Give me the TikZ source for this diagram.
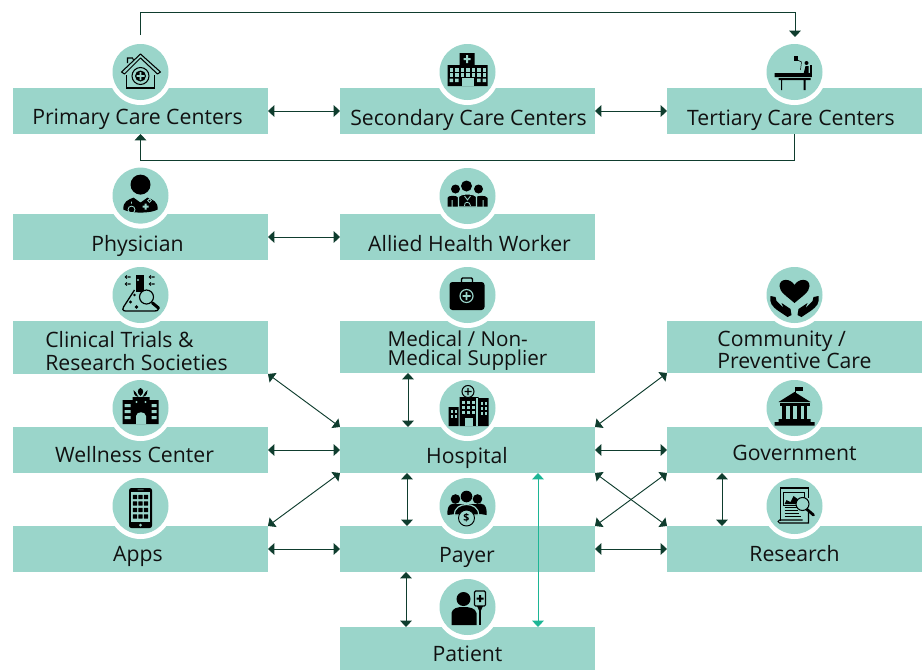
\documentclass[tikz,border=0pt]{standalone}
\usepackage{fontspec}
\setmainfont{Open Sans}
\usetikzlibrary{arrows.meta}
\definecolor{boxcol}{RGB}{154,213,202}
\definecolor{linkcol}{RGB}{15,61,46}
\definecolor{directcol}{RGB}{29,181,149}
\definecolor{txtcol}{RGB}{17,17,17}
\tikzset{
 box/.style={fill=boxcol,text=txtcol,inner sep=0,outer sep=0,minimum width=7.65cm,font=\fontsize{18.1}{20}\selectfont},
 ring/.style={circle,fill=white,inner sep=0,minimum size=1.92cm},
 disc/.style={circle,fill=boxcol,inner sep=0,minimum size=1.68cm},
 link/.style={draw=linkcol,line width=.8pt,<->,>={Triangle[length=1.9mm,width=3.5mm]}},
 direct/.style={link,draw=directcol,>={Triangle[length=1.9mm,width=3.5mm]}},
 oneway/.style={draw=linkcol,line width=.8pt,->,>={Triangle[length=1.9mm,width=3.5mm]}},
}
% two lines of a box, first baseline on the baseline of the node
\newcommand{\twolines}[3]{\vtop{\baselineskip=#1pt\hbox{#2}\hbox{#3}}}

% icons, around the centre of the disc
\newcommand{\iconprimary}{
 \draw[line width=.9pt,line join=round] (-19,0)--(0,-18)--(20,0)--(17,2)--(0,-14)--(-16,2)--cycle;
 \draw[line width=.9pt] (-13,-9)--(-13,-14)--(-8,-14)--(-7,-12);
 \draw[line width=.9pt] (-14,3)--(-14,16)--(14,16)--(14,3);
 \draw[line width=.9pt] (0,4) circle (8.5);
 \fill (0,4) circle (5.5);
 \fill[boxcol] (-4,3.2) rectangle (4,4.8) (-.8,0) rectangle (.8,8);
}
\newcommand{\iconsecondary}{
 \fill (-8,-19) rectangle (7,-7) (-20,-7) rectangle (20,14);
 \fill[boxcol] (-4,-14) rectangle (3,-12) (-1.5,-17) rectangle (.5,-9);
 \foreach \wx in {-18,-12.5,-7,-1.5,4,9.5,15}{
  \foreach \wy in {-4,1}{\fill[boxcol] (\wx,\wy) rectangle ++(3.5,3.5);}
 }
 \fill[boxcol] (-18,6.5) rectangle ++(3.5,3.5) (-12.5,6.5) rectangle ++(3.5,3.5) (9.5,6.5) rectangle ++(3.5,3.5) (15,6.5) rectangle ++(3.5,3.5);
 \fill[boxcol] (-6,6) rectangle (6,14);
}
\newcommand{\icontertiary}{
 \fill (-1,-16) rectangle (3,-11);
 \draw[line width=.4pt] (3,-12)--(7,-10)--(6,-2);
 \fill (12,-9) circle (2);
 \fill (9,2)--(11,-6)--(14,-6)--(14,2)--cycle;
 \fill (15.5,-7) rectangle (17.5,5);
 \fill (-20,1) rectangle (17,5) (-16,6) rectangle (16,8) (-13.5,8) rectangle (-12.5,18) (9,8) rectangle (11,18);
}
\newcommand{\iconphysician}{
 \fill (0,-11) circle (10);
 \fill (-17,14) .. controls (-18,6) and (-12,4) .. (-7,2) -- (0,7) -- (7,2) .. controls (12,4) and (18,6) .. (17,14) .. controls (10,18) and (-10,18) .. (-17,14) -- cycle;
 \draw[boxcol,line width=.7pt] (-9,6) -- (-9,8) (-9,14) circle (3.5);
 \draw[boxcol,line width=.7pt] (9,5) circle (1.8);
 \fill[boxcol] (2,10) rectangle (8,12) (4,8) rectangle (6,14);
}
\newcommand{\iconallied}{
 \fill (-12,-7) circle (4.5) (11,-7) circle (4.5);
 \fill (-20,10.5) -- (-20,2) .. controls (-20,-1) and (-10,-1) .. (-9,2) -- (-9,10.5) -- cycle;
 \fill (8,10.5) -- (8,2) .. controls (9,-1) and (19,-1) .. (20,2) -- (20,10.5) -- cycle;
 \fill[boxcol] (-16,4) rectangle (-15,11) (15,4) rectangle (16,11);
 \draw[boxcol,line width=1pt,fill=black] (-9,11) -- (-9,1) .. controls (-8,-3) and (8,-3) .. (9,1) -- (9,11) -- cycle;
 \draw[boxcol,line width=.7pt] (-3,10) .. controls (-4,5) and (3,5) .. (3,10) (-3,0) -- (0,4) -- (3,0);
 \fill (-1,-10) circle (5.5);
}
\newcommand{\iconclinical}{
 \fill (-5,-20) rectangle (3,-3);
 \fill[boxcol] (-2.5,-15) circle (1.2);
 \draw[line width=1.1pt] (-6,-5) -- (-17,12) .. controls (-19,16) and (-16,16) .. (-13,16) -- (14,16) .. controls (18,16) and (19,14) .. (16,11);
 \foreach \lx/\ly in {-14/-18,-14/-11,10/-18,10/-11}{
  \fill (\lx,\ly) circle (1.8) (\lx,\ly) ++(0,-.7) rectangle ++(4,1.4);
 }
 \fill (-10,7) circle (1.6) (-4,12) circle (1.8) (-6,0) circle (1.4);
 \draw[line width=2.6pt,line cap=round] (12,8) -- (18,13);
 \draw[line width=1pt,fill=boxcol] (6,2) circle (7);
}
\newcommand{\iconmedical}{
 \fill[rounded corners=2.5pt] (-18,-13) rectangle (17,15);
 \draw[line width=1.2pt,rounded corners=1pt] (-6,-12) -- (-6,-17) -- (5,-17) -- (5,-12);
 \draw[boxcol,line width=1pt] (-1,1) circle (6.5);
 \fill[boxcol] (-5,.2) rectangle (3,1.8) (-1.8,-3) rectangle (-.2,5);
}
\newcommand{\iconcommunity}{
 \fill (0,8) .. controls (-8,1) and (-15,-3) .. (-15,-9) .. controls (-15,-17) and (-4,-17) .. (0,-10) .. controls (4,-17) and (15,-17) .. (15,-9) .. controls (15,-3) and (8,1) .. (0,8) -- cycle;
 \fill (-24,1) .. controls (-25,8) and (-23,11) .. (-16,16) -- (-7,22) -- (-3,20) -- (-4,14) -- (-13,8) -- (-11,13) -- (-18,6) -- (-19,2) -- cycle;
 \fill (24,1) .. controls (25,8) and (23,11) .. (16,16) -- (7,22) -- (3,20) -- (4,14) -- (13,8) -- (11,13) -- (18,6) -- (19,2) -- cycle;
}
\newcommand{\iconwellness}{
 \fill (-18,-8) rectangle (-8,16) (9,-8) rectangle (18,16) (-8,-11) rectangle (9,16);
 \foreach \wy in {-4,2,8}{
  \fill[boxcol] (-16,\wy) rectangle ++(6,3) (11,\wy) rectangle ++(5,3);
 }
 \fill[boxcol] (-4.5,16) -- (-4.5,8) .. controls (-4,3) and (5,3) .. (5.5,8) -- (5.5,16) -- cycle;
 \fill[boxcol] (-4,-6) circle (1.2) (5,-6) circle (1.2);
 \fill (0,-12) .. controls (-4,-15) and (-3,-19) .. (0,-20) .. controls (3,-19) and (4,-15) .. (0,-12) -- cycle;
 \fill (-2,-11) .. controls (-7,-12) and (-7,-16) .. (-7,-18) .. controls (-5,-17) and (-4,-14) .. (-2,-11) -- cycle;
 \fill (2,-11) .. controls (7,-12) and (7,-16) .. (7,-18) .. controls (5,-17) and (4,-14) .. (2,-11) -- cycle;
}
\newcommand{\iconapps}{
 \fill[rounded corners=2pt] (-11.5,-18) rectangle (11.5,22);
 \fill[boxcol] (-9.5,-14) rectangle (9.5,16);
 \fill[boxcol] (0,19) circle (1.5) (-3,-16.5) rectangle (3,-15.8);
 \foreach \wx in {-5.5,0,5.5}{
  \foreach \wy in {-9,-2.5,4,10.5}{\fill[rounded corners=.5pt] (\wx-2.2,\wy-2.2) rectangle ++(4.4,4.4);}
 }
}
\newcommand{\iconhospital}{
 \fill (-19,-1) rectangle (-9,18) (10,-10) rectangle (21,18) (-8,-11) rectangle (11,18);
 \draw[boxcol,line width=1pt] (9.5,-10) -- (9.5,18);
 \draw[line width=.9pt,fill=boxcol] (0.5,-16.5) circle (6);
 \fill (-3,-17.2) rectangle (4,-15.8) (-.2,-20) rectangle (1.2,-13);
 \foreach \wx in {-5.5,-.5,4.5}{
  \foreach \wy in {-7,-2,3}{\fill[boxcol] (\wx,\wy) rectangle ++(3,3);}
 }
 \foreach \wx in {-17,-13}{
  \foreach \wy in {2,7}{\fill[boxcol] (\wx,\wy) rectangle ++(2.5,3);}
 }
 \foreach \wx in {13,17}{
  \foreach \wy in {-6,-1,4}{\fill[boxcol] (\wx,\wy) rectangle ++(2.5,3);}
 }
 \fill[boxcol] (-3,10) rectangle (5,18);
}
\newcommand{\iconpayer}{
 \fill (-12,-7) circle (4.8) (10,-7) circle (4.8) (-1,-9.5) circle (5.8);
 \fill (-20,9) .. controls (-21,-3) and (-14,-3) .. (-11,-2) -- (9,-2) .. controls (14,-3) and (20,-3) .. (19,9) -- (13,8) -- (-12,8) -- cycle;
 \draw[boxcol,line width=1pt,fill=black] (-13,9) .. controls (-14,-5) and (12,-5) .. (11,9) -- cycle;
 \draw[line width=.8pt,fill=boxcol] (-1,12) circle (8);
 \node[inner sep=0,font=\bfseries\fontsize{9}{9}\selectfont] (coinsign) at (-1,12) {\$};
}
\newcommand{\iconpatient}{
 \fill (-4,-8) circle (7);
 \fill (-16,18) -- (-16,6) .. controls (-15,1) and (-10,0) .. (-4,0) .. controls (2,0) and (8,1) .. (9,6) -- (9,18) -- cycle;
 \draw[line width=1pt,rounded corners=1pt,fill=boxcol] (7,-16) rectangle (18,-1);
 \fill (9,-9.5) rectangle (16,-7.5) (11.5,-12) rectangle (13.5,-5);
 \fill (9.5,-1) -- (15.5,-1) -- (13.2,4) -- (11.8,4) -- cycle;
 \draw[line width=.9pt] (12.5,3) -- (12.5,18);
}
\newcommand{\icongovernment}{
 \draw[line width=.7pt] (.5,-21) -- (.5,-15);
 \fill (1,-21) rectangle (8,-17);
 \fill (-16,-6) -- (0,-16) -- (16,-6) -- cycle;
 \fill (-15,-5) rectangle (15,-2);
 \foreach \wx in {-12.5,-5,2.5,9}{\fill (\wx,-2) rectangle ++(3.5,14);}
 \fill (-16,11) rectangle (16,14) (-20,14) rectangle (20,17.5);
}
\newcommand{\iconresearch}{
 \draw[line width=.9pt] (-14,15) -- (-14,-18) -- (14,-18) -- (14,-8);
 \draw[line width=.9pt] (14,6) -- (14,17) -- (-15,17) .. controls (-17,17) and (-17,14) .. (-15,14) -- (8,14);
 \draw[line width=.7pt] (-11,-14) rectangle (10,-1);
 \fill (-10,-2) -- (-8,-6) -- (-4,-4) -- (-1,-10) -- (3,-7) -- (5,-2) -- cycle;
 \draw[line width=.6pt] (-10,1) -- (2,1) (-10,4) -- (3,4) (-10,7) -- (4,7) (-10,10) -- (6,10);
 \draw[line width=2.4pt,line cap=round] (12,3) -- (19,9);
 \draw[line width=.9pt,fill=boxcol] (8,-2) circle (6.5);
}

\begin{document}
\begin{tikzpicture}[x=.03cm,y=-.03cm]
\useasboundingbox (0,0) rectangle (924,670);
% boxes, with the disc and the icon of each
\foreach \nm/\bx/\by/\bh/\base/\dx/\cy/\txt in {
 primary/140.5/111/46/13.5/-3/72/{Primary Care Centers},
 secondary/467.5/111/46/14/1/72/{Secondary Care Centers},
 tertiary/794.5/111/46/14/-3.5/72/{Tertiary Care Centers},
 physician/140.5/237/46/14.5/-3/195.6/{Physician},
 allied/467.5/237/46/14/2/196/{Allied Health Worker},
 clinical/140.5/347.5/53/.3/-4/295/{\twolines{19}{Clinical Trials \&}{Research Societies}},
 medical/467.5/347/52/-.6/0/295/{\fontsize{17.6}{18}\selectfont\twolines{16.2}{Medical / Non-}{Medical Supplier}},
 community/794.5/347/52/-1/0/295/{\twolines{19}{Community /}{Preventive Care}},
 wellness/140.5/450/46/12/-6/408/{Wellness Center},
 hospital/467.5/450/46/13/-.5/408/{Hospital},
 government/794.5/450/46/10/0/408/{Government},
 apps/140.5/549/46/12.6/-2.5/506/{Apps},
 payer/467.5/549/46/13.7/-.5/506/{Payer},
 research/794.5/549/46/12/0/506/{Research},
 patient/467.5/648.5/43/13.2/0/607/{Patient}
}{
 \pgfmathsetmacro\hh{(\bh/2+\base)*.8536}
 \pgfmathsetmacro\dd{(\bh/2-\base)*.8536}
 \pgfmathsetmacro\kk{2*\dx*.8536}
 \node[box,text height=\hh pt,text depth=\dd pt] (\nm) at (\bx,\by) {\hspace*{\kk pt}\txt};
 \node[ring] (\nm ring) at (\bx,\cy+1) {};
 \node[disc] (\nm disc) at (\bx,\cy) {};
 \begin{scope}[shift={(\nm disc)}]
  \csname icon\nm\endcsname
 \end{scope}
}
% arrows between boxes
\foreach \a/\z in {primary.east/secondary.west,secondary.east/tertiary.west,physician.east/allied.west,
 clinical.south east/hospital.north west,wellness.east/hospital.west,apps.north east/hospital.south west,
 apps.east/payer.west,hospital.north east/community.south west,hospital.east/government.west,
 hospital.south east/research.north west,payer.north east/government.south west,payer.east/research.west}{
 \draw[link] (\a) -- (\z);
}
\coordinate (supplyline) at (408,0);
\coordinate (payline) at (407,0);
\coordinate (patientline) at (406,0);
\coordinate (dataline) at (722,0);
\coordinate (directline) at (538,0);
\foreach \a/\z/\l in {medical/hospital/supplyline,hospital/payer/payline,payer/patient/patientline,government/research/dataline}{
 \draw[link] (\a.south -| \l) -- (\z.north -| \l);
}
\draw[direct] (hospital.south -| directline) -- (patient.north -| directline);
% loops over and under the top row
\coordinate (loopstart) at (140,35);
\coordinate (loopend) at (795,37);
\coordinate (looptop) at (0,12);
\coordinate (loopbottom) at (0,160);
\draw[oneway] (loopstart) -- (loopstart |- looptop) -- (loopend |- looptop) -- (loopend);
\draw[oneway] (tertiary.south) -- (tertiary.south |- loopbottom) -- (primary.south |- loopbottom) -- (primary.south);
\end{tikzpicture}
\end{document}
